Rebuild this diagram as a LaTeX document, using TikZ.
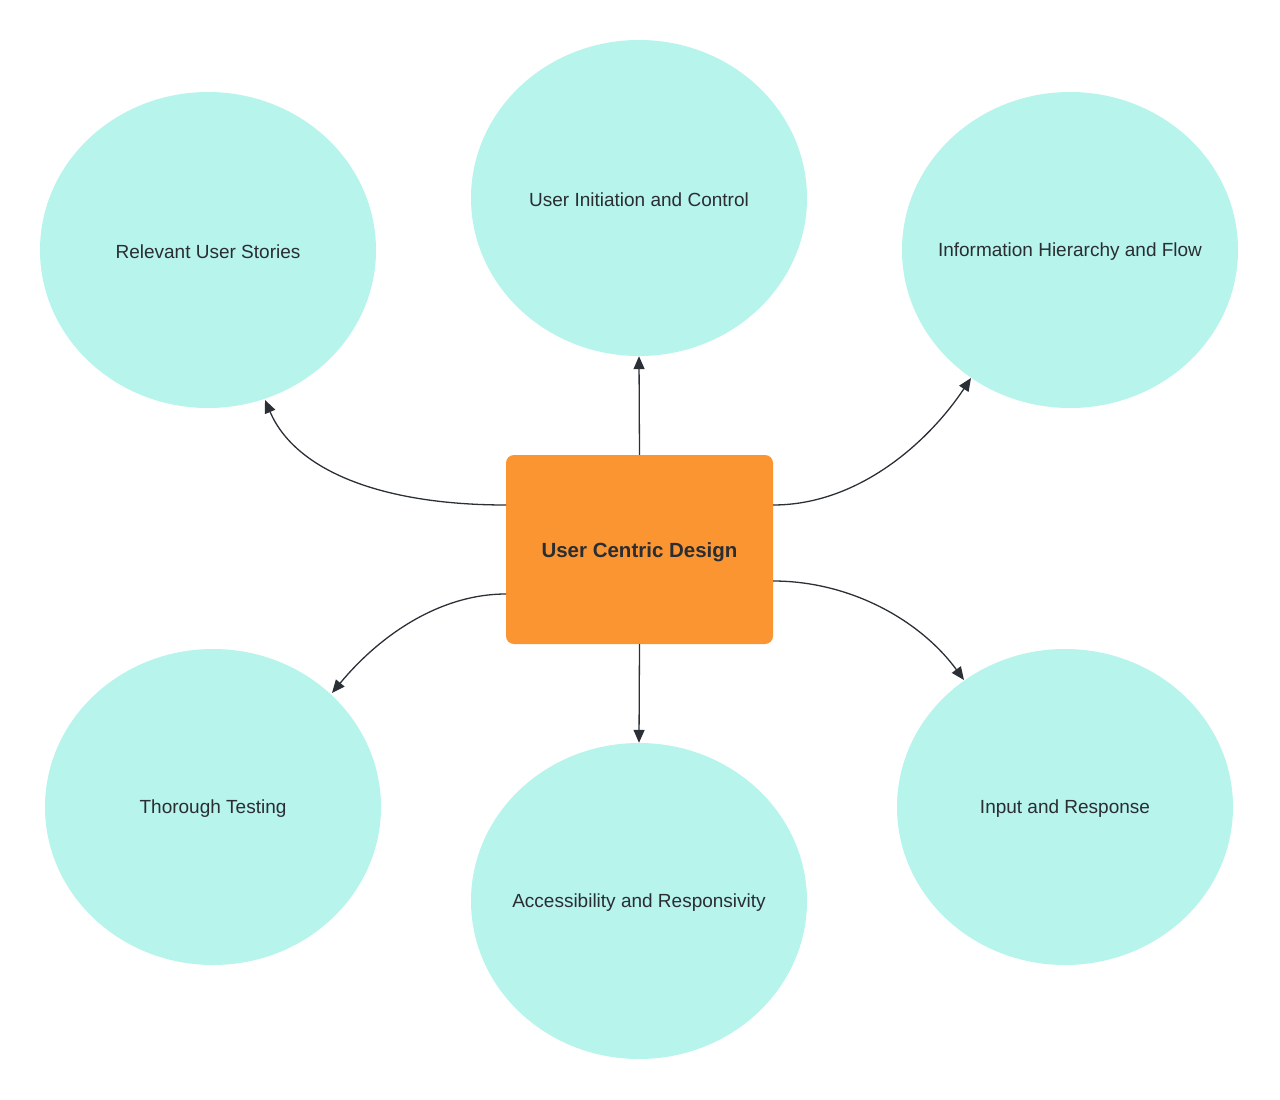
\documentclass[tikz,border=0pt]{standalone}
\usepackage{fontspec}
\setmainfont{Liberation Sans}
\usetikzlibrary{shapes.geometric,arrows.meta}
\definecolor{bubble}{HTML}{B7F4EC}
\definecolor{hub}{HTML}{FA9532}
\definecolor{ink}{HTML}{2A2D32}
\definecolor{wire}{HTML}{2B2F36}
\tikzset{
  bubble/.style={ellipse, fill=bubble, draw=none, minimum width=336pt, minimum height=316pt, inner sep=0pt},
  bubbletext/.style={text=ink, font=\fontsize{19}{23}\selectfont, inner sep=0pt, yshift=-2pt},
  hubbox/.style={rectangle, rounded corners=8pt, fill=hub, draw=none, minimum width=267pt, minimum height=189pt, inner sep=0pt},
  hubtext/.style={text=ink, font=\fontsize{20.5}{24}\selectfont\bfseries, inner sep=0pt, yshift=-2.5pt},
  wirearrow/.style={draw=wire, line width=1.3pt, -{Triangle[length=13pt,width=11pt]}}
}
\begin{document}
\begin{tikzpicture}[x=1pt,y=-1pt]
\useasboundingbox (0,0) rectangle (1280,1100);
\node[bubble, label={[bubbletext]center:Relevant User Stories}] (rus) at (208,250) {};
\node[bubble, label={[bubbletext]center:User Initiation and Control}] (uic) at (639,198) {};
\node[bubble, label={[bubbletext]center:Information Hierarchy and Flow}] (ihf) at (1070,250) {};
\node[bubble, label={[bubbletext]center:Thorough Testing}] (tt) at (213,807) {};
\node[bubble, label={[bubbletext]center:Accessibility and Responsivity}] (ar) at (639,901) {};
\node[bubble, label={[bubbletext]center:Input and Response}] (ir) at (1065,807) {};
\node[hubbox, label={[hubtext]center:User Centric Design}] (ucd) at (639.5,549.5) {};
% endpoints
\coordinate (sL1) at (506,505);
\coordinate (sL2) at (506,594);
\coordinate (sR1) at (773,505);
\coordinate (sR2) at (773,581);
\coordinate (eRUS) at (265,400);
\coordinate (eIHF) at (971,378);
\coordinate (eTT) at (332,693);
\coordinate (eIR) at (964,680);
\draw[wirearrow] (sL1) .. controls (380,505) and (295,470) .. (eRUS);
\draw[wirearrow] (ucd.north) -- (uic.south);
\draw[wirearrow] (sR1) .. controls (860,505) and (930,440) .. (eIHF);
\draw[wirearrow] (sL2) .. controls (440,594) and (380,635) .. (eTT);
\draw[wirearrow] (ucd.south) -- (ar.north);
\draw[wirearrow] (sR2) .. controls (850,581) and (920,620) .. (eIR);
\end{tikzpicture}
\end{document}
